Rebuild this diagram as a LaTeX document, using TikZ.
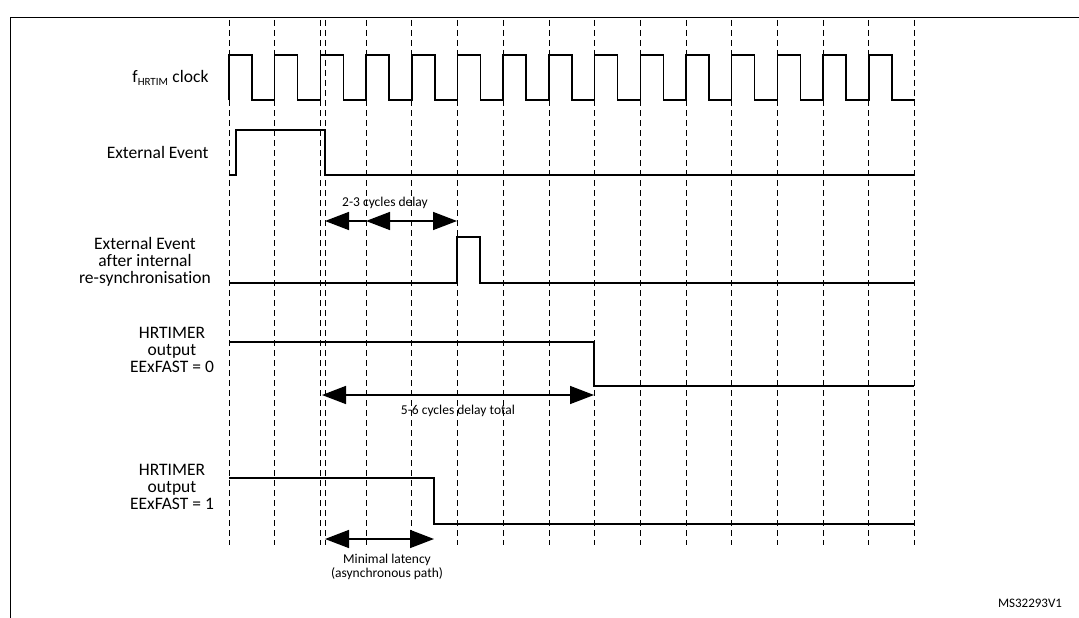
\documentclass[tikz,border=0pt]{standalone}
\usepackage{fontspec}
\setmainfont{Carlito}[Ligatures=NoCommon]
\usetikzlibrary{arrows.meta,calc}
\begin{document}
\begin{tikzpicture}[x=1pt,y=-1pt,
  sig/.style={line width=1.5pt,line join=miter},
  grid/.style={dashed,line width=0.8pt,dash pattern=on 6pt off 4pt},
  lab/.style={font=\fontsize{17.5}{20}\selectfont,align=center},
  small/.style={font=\fontsize{13.5}{16}\selectfont,align=center},
  dim/.style={line width=1.5pt},
  tip/.style={-{Triangle[length=24pt,width=18pt]}}]
\useasboundingbox (0,0) rectangle (1079,618);
\draw[line width=1pt] (10,18) -- (1085,18) (10,18) -- (10,625);
% grid
\foreach \k in {0,...,15}{\draw[grid] (229+\k*45.7,20) -- (229+\k*45.7,545);}
\draw[grid] (325,20) -- (325,545);
% clock
\draw[sig] (229,100) \foreach \k in {0,...,14}{ -- (229+\k*45.7,55) -- (252+\k*45.7,55) -- (252+\k*45.7,100) -- (274.7+\k*45.7,100)};
\node[lab,anchor=east] (lclk) at (212,78) {f\textsubscript{\fontsize{11}{11}\selectfont HRTIM} clock};
% external event
\draw[sig] (229,175) -- (236,175) -- (236,130) -- (325,130) -- (325,175) -- (914,175);
\node[lab,anchor=east] (lext) at (212,152) {External Event};
% resync
\draw[sig] (229,283) -- (457,283) -- (457,237) -- (480,237) -- (480,283) -- (914,283);
\node[lab,align=center] (lsync) at (145,262) {External Event\\[-3pt]after internal\\[-3pt]re-synchronisation};
\coordinate (a1) at (366,221); \coordinate (a0) at (325,221); \coordinate (a2) at (457,221);
\draw[dim,tip] (a1) -- (a0);
\draw[dim,tip] ($(a1)!0.5!(a2)$) -- (a1);
\draw[dim,tip] ($(a1)!0.5!(a2)$) -- (a2);
\node[small] (t23) at (385,203) {2-3 cycles delay};
% EExFAST=0
\draw[sig] (229,342) -- (594,342) -- (594,386) -- (914,386);
\node[lab] (l0) at (172,350) {HRTIMER\\[-3pt]output\\[-3pt]EExFAST = 0};
\coordinate (b0) at (322,395); \coordinate (b1) at (594,395);
\draw[dim,tip] ($(b0)!0.5!(b1)$) -- (b0);
\draw[dim,tip] ($(b0)!0.5!(b1)$) -- (b1);
\node[small] (t56) at (458,411) {5-6 cycles delay total};
% EExFAST=1
\draw[sig] (229,478) -- (434,478) -- (434,524) -- (914,524);
\node[lab] (l1) at (172,487) {HRTIMER\\[-3pt]output\\[-3pt]EExFAST = 1};
\coordinate (c0) at (325,539); \coordinate (c1) at (434,539);
\draw[dim,tip] ($(c0)!0.5!(c1)$) -- (c0);
\draw[dim,tip] ($(c0)!0.5!(c1)$) -- (c1);
\node[small] (tml) at (387,567) {Minimal latency\\[-2pt](asynchronous path)};
\node[font=\fontsize{13}{15}\selectfont] (ms) at (1030,603) {MS32293V1};
\end{tikzpicture}
\end{document}
